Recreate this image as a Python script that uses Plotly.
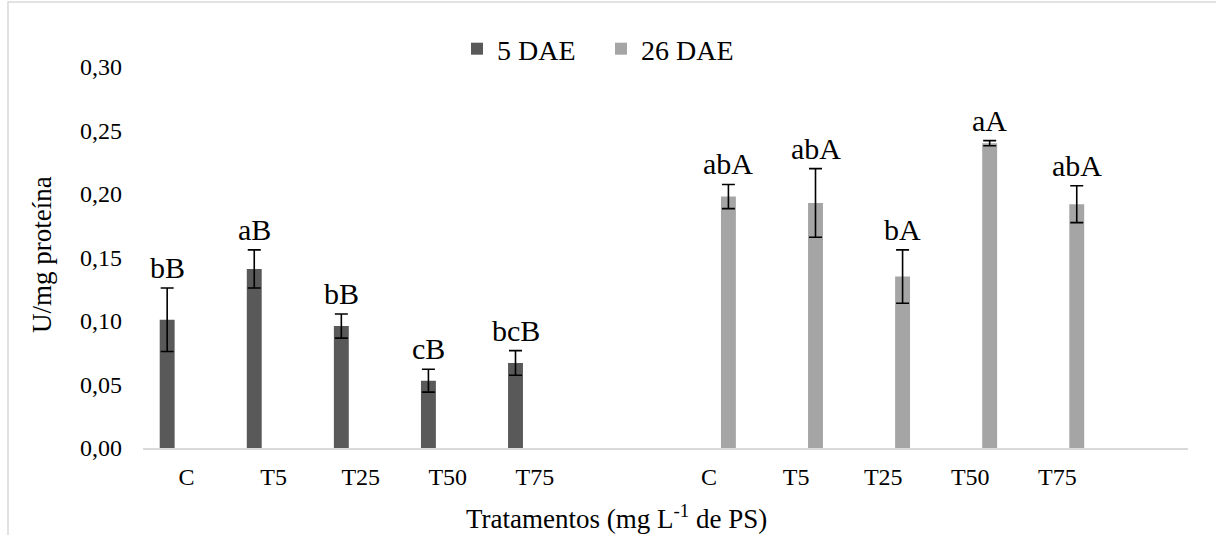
import plotly.graph_objects as go

categories = ["C", "T5", "T25", "T50", "T75", "", "C", "T5", "T25", "T50", "T75", ""]
dae5_vals = [0.101, 0.141, 0.096, 0.053, 0.067]
dae5_err = [0.025, 0.015, 0.0095, 0.009, 0.0097]
dae5_letters = ["bB", "aB", "bB", "cB", "bcB"]
dae26_vals = [0.198, 0.193, 0.135, 0.240, 0.192]
dae26_err = [0.0095, 0.027, 0.021, 0.002, 0.0145]
dae26_letters = ["abA", "abA", "bA", "aA", "abA"]
y_ticks = [0.0, 0.05, 0.10, 0.15, 0.20, 0.25, 0.30]
x_title = "Tratamentos (mg L<sup>-1</sup> de PS)"
y_title = "U/mg proteína"

n = len(categories)
x = list(range(n))
idx5 = list(range(0, 5))
idx26 = list(range(6, 11))
tick_idx = [i for i, c in enumerate(categories) if c]
tick_txt = [categories[i] for i in tick_idx]

y5 = [None] * n
e5 = [0] * n
y26 = [None] * n
e26 = [0] * n
for i, v, e in zip(idx5, dae5_vals, dae5_err):
    y5[i] = v
    e5[i] = e
for i, v, e in zip(idx26, dae26_vals, dae26_err):
    y26[i] = v
    e26[i] = e

W, H = 1216, 535
L, R, T, B = 143, 28, 67, 87
FONT = "Times New Roman, Liberation Serif, serif"
BARGAP = 0.11
BARGROUPGAP = 0.615

plot_w = W - L - R
plot_h = H - T - B

def px_to_paper_x(px):
    return (px - L) / plot_w

def px_to_paper_y(py):
    return (H - B - py) / plot_h

fig = go.Figure()
fig.add_trace(go.Bar(
    x=x, y=y5, name="5 DAE", marker=dict(color="#595959", line=dict(width=0)),
    error_y=dict(type="data", array=e5, color="black", thickness=1.6, width=6.5, visible=True),
))
fig.add_trace(go.Bar(
    x=x, y=y26, name="26 DAE", marker=dict(color="#a5a5a5", line=dict(width=0)),
    error_y=dict(type="data", array=e26, color="black", thickness=1.6, width=6.5, visible=True),
))

offset = (1 - BARGAP) / 4
annotations = []
for i, v, e, t in zip(idx5, dae5_vals, dae5_err, dae5_letters):
    annotations.append(dict(x=i - offset, y=v + e, text=t, showarrow=False, xref="x", yref="y",
                            yanchor="bottom", xanchor="center", yshift=2,
                            font=dict(family=FONT, size=30, color="black")))
for i, v, e, t in zip(idx26, dae26_vals, dae26_err, dae26_letters):
    annotations.append(dict(x=i + offset, y=v + e, text=t, showarrow=False, xref="x", yref="y",
                            yanchor="bottom", xanchor="center", yshift=2,
                            font=dict(family=FONT, size=30, color="black")))

annotations.append(dict(x=px_to_paper_x(616), y=px_to_paper_y(517), xref="paper", yref="paper",
                        text=x_title, showarrow=False, xanchor="center", yanchor="middle",
                        font=dict(family=FONT, size=27, color="black")))
annotations.append(dict(x=px_to_paper_x(42), y=px_to_paper_y(255), xref="paper", yref="paper",
                        text=y_title, showarrow=False, xanchor="center", yanchor="middle",
                        textangle=-90, font=dict(family=FONT, size=27, color="black")))

fig.update_layout(
    width=W, height=H,
    margin=dict(l=L, r=R, t=T, b=B, autoexpand=False),
    paper_bgcolor="white", plot_bgcolor="white",
    barmode="group", bargap=BARGAP, bargroupgap=BARGROUPGAP,
    separators=",.",
    font=dict(family=FONT, color="black"),
    showlegend=True,
    legend=dict(orientation="h", x=px_to_paper_x(457), xanchor="left",
                y=px_to_paper_y(49), yanchor="middle",
                font=dict(family=FONT, size=28, color="black"),
                itemwidth=30, entrywidth=99, entrywidthmode="pixels",
                bgcolor="rgba(0,0,0,0)"),
    annotations=annotations,
    shapes=[dict(type="rect", xref="paper", yref="paper",
                 x0=px_to_paper_x(8), x1=px_to_paper_x(W + 10),
                 y0=px_to_paper_y(H + 10), y1=px_to_paper_y(2),
                 line=dict(color="#d9d9d9", width=1.5), fillcolor="rgba(0,0,0,0)", layer="below")],
)

fig.update_xaxes(
    range=[-0.5, n - 0.5],
    tickmode="array", tickvals=tick_idx, ticktext=tick_txt,
    showline=True, linecolor="#d9d9d9", linewidth=1.5,
    showgrid=False, zeroline=False, ticks="",
    tickfont=dict(family=FONT, size=24, color="black"),
    ticklabelstandoff=6,
    automargin=False,
)
fig.update_yaxes(
    range=[0, 0.30], tickmode="array", tickvals=y_ticks, tickformat=".2f",
    showline=False, showgrid=False, zeroline=False, ticks="",
    tickfont=dict(family=FONT, size=24, color="black"),
    ticklabelstandoff=20,
    automargin=False,
)

fig.write_html("out.html", config={"displayModeBar": False},
               post_script="document.body.style.margin='0';document.body.style.overflow='hidden';")
